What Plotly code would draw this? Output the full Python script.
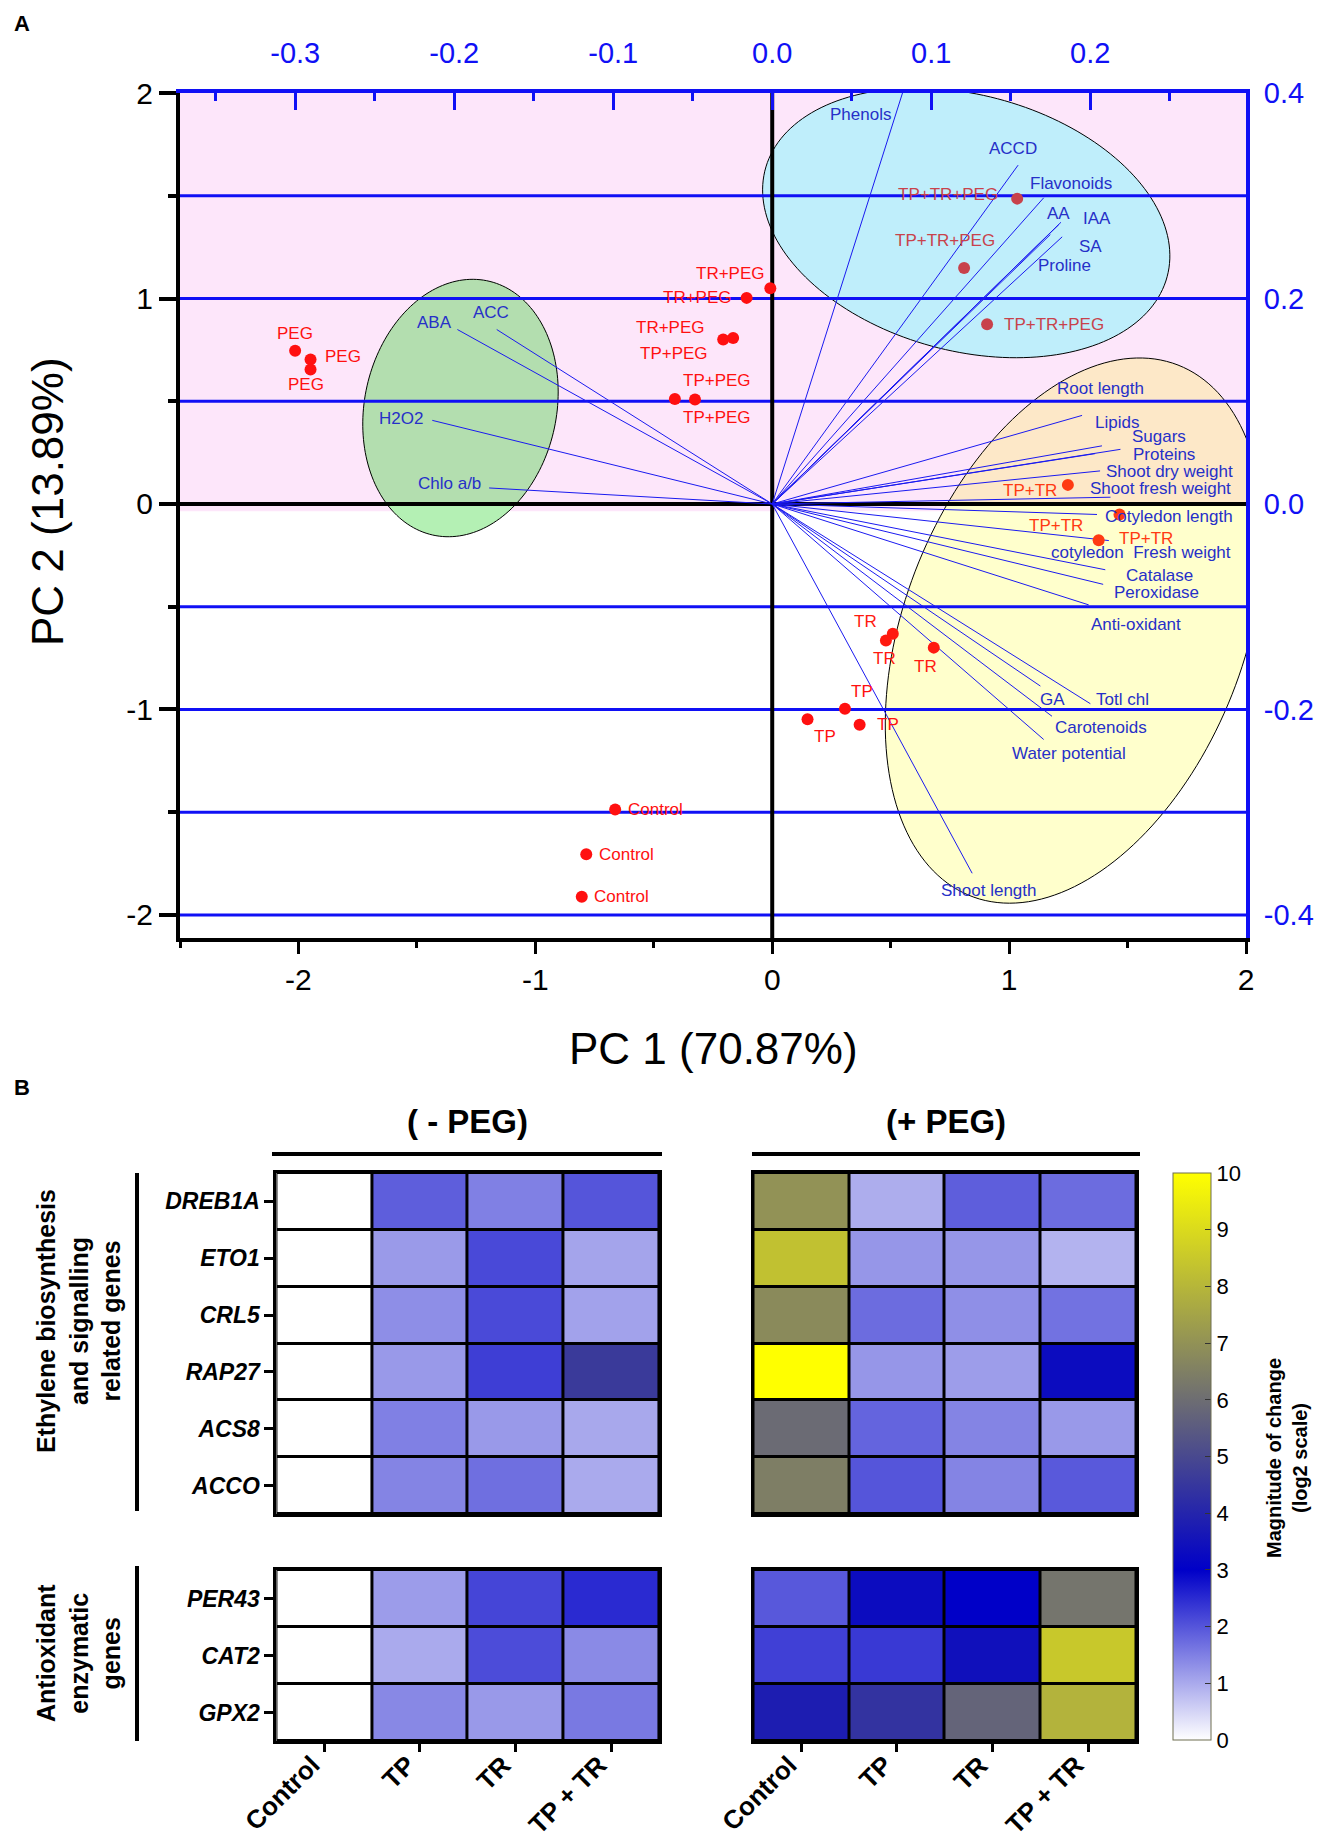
import numpy as np
import plotly.graph_objects as go

W, H = 1323, 1844

# ---------------- Panel A: PCA biplot data ----------------
sample_labels = ["PEG", "PEG", "PEG",
                 "TR+PEG", "TR+PEG", "TR+PEG",
                 "TP+PEG", "TP+PEG", "TP+PEG",
                 "TP+TR+PEG", "TP+TR+PEG", "TP+TR+PEG",
                 "TR", "TR", "TR",
                 "TP", "TP", "TP",
                 "TP+TR", "TP+TR", "TP+TR",
                 "Control", "Control", "Control"]
sample_pc1 = [-2.014, -1.949, -1.949,
              -0.008, -0.108, -0.165,
              -0.207, -0.411, -0.326,
              1.034, 0.810, 0.907,
              0.509, 0.480, 0.682,
              0.307, 0.149, 0.369,
              1.248, 1.466, 1.378,
              -0.663, -0.785, -0.804]
sample_pc2 = [0.746, 0.703, 0.654,
              1.050, 1.003, 0.808,
              0.800, 0.511, 0.508,
              1.486, 1.148, 0.875,
              -0.631, -0.664, -0.699,
              -0.996, -1.047, -1.074,
              0.093, -0.051, -0.176,
              -1.487, -1.705, -1.911]

variable_names = ["Phenols", "ACCD", "Flavonoids", "AA", "IAA", "SA", "Proline",
                  "Root length", "Lipids", "Sugars", "Proteins", "Shoot dry weight",
                  "Shoot fresh weight", "Cotyledon length", "cotyledon&nbsp; Fresh weight",
                  "Catalase", "Peroxidase", "Anti-oxidant", "GA", "Totl chl",
                  "Carotenoids", "Water potential", "Shoot length",
                  "ABA", "ACC", "H2O2", "Chlo a/b"]
variable_pc1 = [0.550, 1.038, 1.146, 1.219, 1.210, 1.224, 1.174,
                1.308, 1.392, 1.470, 1.363, 1.384,
                1.428, 1.371, 1.421,
                1.406, 1.397, 1.336, 1.132, 1.343,
                1.181, 1.146, 0.844,
                -1.329, -1.163, -1.435, -1.195]
variable_pc2 = [2.000, 1.649, 1.490, 1.371, 1.360, 1.300, 1.311,
                0.431, 0.283, 0.266, 0.245, 0.161,
                0.033, -0.051, -0.178,
                -0.320, -0.391, -0.491, -0.886, -0.972,
                -1.033, -1.146, -1.797,
                0.849, 0.849, 0.407, 0.078]

pc1_title = "PC 1 (70.87%)"
pc2_title = "PC 2 (13.89%)"
pc1_ticks = [-2, -1, 0, 1, 2]
pc2_ticks = [-2, -1, 0, 1, 2]
top_ticks = [-0.3, -0.2, -0.1, 0.0, 0.1, 0.2]
right_ticks = [0.4, 0.2, 0.0, -0.2, -0.4]
right_grid = [0.3, 0.2, 0.1, -0.1, -0.2, -0.3, -0.4]

# ---------------- Panel B: heatmap data ----------------
treatments = ["Control", "TP", "TR", "TP + TR"]
genes_ethylene = ["DREB1A", "ETO1", "CRL5", "RAP27", "ACS8", "ACCO"]
genes_antiox = ["PER43", "CAT2", "GPX2"]
ethylene_minus_peg = [[0, 1.90, 1.50, 2.00],
                      [0, 1.19, 2.14, 1.07],
                      [0, 1.33, 2.13, 1.09],
                      [0, 1.20, 2.27, 4.60],
                      [0, 1.50, 1.20, 1.02],
                      [0, 1.45, 1.70, 1.00]]
ethylene_plus_peg = [[7.00, 0.96, 1.90, 1.73],
                     [8.30, 1.24, 1.23, 0.90],
                     [6.80, 1.73, 1.32, 1.66],
                     [10.0, 1.24, 1.15, 3.33],
                     [5.95, 1.82, 1.45, 1.20],
                     [6.45, 2.00, 1.45, 1.95]]
antiox_minus_peg = [[0, 1.16, 2.19, 2.50],
                    [0, 1.00, 2.10, 1.38],
                    [0, 1.40, 1.20, 1.58]]
antiox_plus_peg = [[1.97, 3.33, 3.00, 6.20],
                   [2.25, 2.33, 3.44, 8.50],
                   [3.80, 4.40, 5.75, 7.90]]
colorbar_ticks = list(range(0, 11))

# ---------------- styles / layout geometry ----------------
FONT = "Liberation Sans, Arial, sans-serif"
NARROW = "Liberation Sans Narrow, Arial Narrow, Liberation Sans, Arial, sans-serif"
BLUE_TXT = "#2630C8"
AXBLUE = "#1010F5"

X_RANGE = [-2.5, 2.0]
Y_RANGE = [-2.112, 2.0]
PCA_L, PCA_R, PCA_T, PCA_B = 172, 1238, 85, 930
KX = (PCA_R - PCA_L) / (X_RANGE[1] - X_RANGE[0])
KY = (PCA_B - PCA_T) / (Y_RANGE[1] - Y_RANGE[0])
TOP_SCALE = 0.149     # top axis units per PC1 unit
RIGHT_SCALE = 0.2     # right axis units per PC2 unit

group_marker = {"PEG": "#FF1010", "TR+PEG": "#FF1010", "TP+PEG": "#FF1010",
                "TP+TR+PEG": "#C8424B", "TR": "#FF1A10", "TP": "#FF1010",
                "TP+TR": "#FF3A12", "Control": "#FF1010"}
group_text = {"PEG": "#FF1010", "TR+PEG": "#FF1010", "TP+PEG": "#FF1010",
              "TP+TR+PEG": "#C8424B", "TR": "#FF1A10", "TP": "#FF1010",
              "TP+TR": "#FF3A12", "Control": "#FF1010"}
# label offsets (pixels, dx right, dy down) for sample labels
sample_offsets = [(0, -17), (32, -3), (-5, 15),
                  (-40, -15), (-49, 0), (-63, -10),
                  (-49, 14), (42, -18), (22, 18),
                  (-69, -4), (-19, -28), (67, 0),
                  (-27, -12), (-1, 18), (-8, 19),
                  (17, -17), (17, 17), (28, 0),
                  (-38, 6), (-64, 11), (47, -2),
                  (40, 0), (40, 0), (40, 0)]
variable_offsets = [(-42, 22), (-5, -17), (27, -14), (-2, -9), (38, -6), (28, 10), (14, 31),
                    (18, -27), (15, -23), (39, -13), (69, 1), (69, 1),
                    (50, -9), (72, 2), (32, 12),
                    (54, 6), (53, 8), (47, 20), (12, 13), (32, -4),
                    (49, 11), (25, 14), (16, 17),
                    (-23, -7), (-6, -17), (-31, -2), (-40, -4)]

ellipses = [  # center (data), semi-axes (px), angle (deg), fill, upper fill
    dict(cx=1.276, cy=-0.616, a=285, b=170, ang=68.7, fill="#FFFFCC", upper="#FDE8C8"),
    dict(cx=-1.316, cy=0.467, a=96, b=130, ang=-12, fill="#B4F0B4", upper="#B3DEAF"),
    dict(cx=0.819, cy=1.368, a=208, b=128, ang=-15, fill="#BFEEFB", upper="#BFEEFB"),
]


def ellipse_path(e, clip_upper=False, n=180):
    t = np.linspace(0, 2 * np.pi, n)
    th = np.radians(e["ang"])
    X = e["a"] * np.cos(t) * np.cos(th) - e["b"] * np.sin(t) * np.sin(th)
    Y = e["a"] * np.cos(t) * np.sin(th) + e["b"] * np.sin(t) * np.cos(th)
    xs = e["cx"] + X / KX
    ys = e["cy"] + Y / KY
    if clip_upper:
        ys = np.maximum(ys, 0)
    return "M " + " L ".join(f"{x:.4f},{y:.4f}" for x, y in zip(xs, ys)) + " Z"


def fmt(v, nd=0):
    s = f"{v:.{nd}f}"
    return s.replace("\u2212", "-")


fig = go.Figure()

# loading vectors
vx, vy = [], []
for px_, py_ in zip(variable_pc1, variable_pc2):
    vx += [0, px_, None]
    vy += [0, py_, None]
fig.add_trace(go.Scatter(x=vx, y=vy, mode="lines", line=dict(color="#1A1AF0", width=1),
                         hoverinfo="skip", showlegend=False, xaxis="x", yaxis="y"))
# samples
fig.add_trace(go.Scatter(x=sample_pc1, y=sample_pc2, mode="markers",
                         marker=dict(size=12, color=[group_marker[g] for g in sample_labels]),
                         showlegend=False, xaxis="x", yaxis="y"))
# invisible traces to activate secondary axes
fig.add_trace(go.Scatter(x=[X_RANGE[0] * TOP_SCALE], y=[0], mode="markers", marker=dict(opacity=0),
                         showlegend=False, hoverinfo="skip", xaxis="x6", yaxis="y"))
fig.add_trace(go.Scatter(x=[0], y=[Y_RANGE[0] * RIGHT_SCALE], mode="markers", marker=dict(opacity=0),
                         showlegend=False, hoverinfo="skip", xaxis="x", yaxis="y6"))

# heatmaps
heat_specs = [(ethylene_minus_peg, genes_ethylene, "x2", "y2"),
              (ethylene_plus_peg, genes_ethylene, "x3", "y3"),
              (antiox_minus_peg, genes_antiox, "x4", "y4"),
              (antiox_plus_peg, genes_antiox, "x5", "y5")]
for z, genes, xa, ya in heat_specs:
    fig.add_trace(go.Heatmap(z=z, x=treatments, y=genes, coloraxis="coloraxis",
                             xgap=3, ygap=3, xaxis=xa, yaxis=ya))

shapes = []
# PCA backgrounds
shapes.append(dict(type="rect", xref="x", yref="y", x0=X_RANGE[0], x1=X_RANGE[1], y0=Y_RANGE[0],
                   y1=Y_RANGE[1], fillcolor="white", line=dict(width=0), layer="below"))
shapes.append(dict(type="rect", xref="x", yref="y", x0=X_RANGE[0], x1=X_RANGE[1], y0=-0.035,
                   y1=Y_RANGE[1], fillcolor="#FDE6FA", line=dict(width=0), layer="below"))
for e in ellipses:
    shapes.append(dict(type="path", xref="x", yref="y", path=ellipse_path(e), fillcolor=e["fill"],
                       line=dict(width=0), layer="below"))
    shapes.append(dict(type="path", xref="x", yref="y", path=ellipse_path(e, True), fillcolor=e["upper"],
                       line=dict(width=0), layer="below"))
    shapes.append(dict(type="path", xref="x", yref="y", path=ellipse_path(e), fillcolor="rgba(0,0,0,0)",
                       line=dict(width=1, color="black"), layer="below"))
for g in right_grid:
    shapes.append(dict(type="line", xref="x", yref="y", x0=X_RANGE[0], x1=X_RANGE[1], y0=g / RIGHT_SCALE,
                       y1=g / RIGHT_SCALE, line=dict(color=AXBLUE, width=3), layer="below"))
shapes.append(dict(type="line", xref="x", yref="y", x0=X_RANGE[0], x1=X_RANGE[1], y0=0, y1=0,
                   line=dict(color="black", width=4), layer="below"))
shapes.append(dict(type="line", xref="x", yref="y", x0=0, x1=0, y0=Y_RANGE[0], y1=Y_RANGE[1],
                   line=dict(color="black", width=4), layer="below"))


def pxs(x): return x / W
def pys(y): return 1 - y / H


for x0, x1 in [(264, 654), (744, 1132)]:
    shapes.append(dict(type="line", xref="paper", yref="paper", x0=pxs(x0), x1=pxs(x1),
                       y0=pys(1146), y1=pys(1146), line=dict(color="black", width=4)))
for y0, y1 in [(1165, 1503), (1558, 1733)]:
    shapes.append(dict(type="line", xref="paper", yref="paper", x0=pxs(129), x1=pxs(129),
                       y0=pys(y0), y1=pys(y1), line=dict(color="black", width=4)))

annotations = []
for lab, x, y, (dx, dy) in zip(sample_labels, sample_pc1, sample_pc2, sample_offsets):
    annotations.append(dict(x=x, y=y, xref="x", yref="y", text=lab, showarrow=False,
                            xanchor="center", yanchor="middle",
                            xshift=dx, yshift=-dy, font=dict(family=FONT, size=17, color=group_text[lab])))
for lab, x, y, (dx, dy) in zip(variable_names, variable_pc1, variable_pc2, variable_offsets):
    annotations.append(dict(x=x, y=y, xref="x", yref="y", text=lab, showarrow=False,
                            xanchor="center", yanchor="middle",
                            xshift=dx, yshift=-dy, font=dict(family=FONT, size=17, color=BLUE_TXT)))


def para(x, y, text, size, family=FONT, angle=0):
    return dict(x=pxs(x), y=pys(y), xref="paper", yref="paper", text=text, showarrow=False,
                xanchor="center", yanchor="middle", textangle=angle,
                font=dict(family=family, size=size, color="black"))


annotations += [
    para(705, 1040, pc1_title, 44),
    para(39, 494, pc2_title, 44, angle=-90),
    para(14, 16, "<b>A</b>", 22),
    para(14, 1079, "<b>B</b>", 22),
    para(459, 1113, "<b>( - PEG)</b>", 33, NARROW),
    para(938, 1113, "<b>(+ PEG)</b>", 33, NARROW),
    para(70, 1313, "<b>Ethylene biosynthesis<br>and signalling<br>related genes</b>", 25, NARROW, -90),
    para(70, 1645, "<b>Antioxidant<br>enzymatic<br>genes</b>", 25, NARROW, -90),
    para(1279, 1450, "<b>Magnitude of change<br>(log2 scale)</b>", 20, FONT, -90),
]
# rotated treatment labels under the lower heatmaps
for xa in ["x4", "x5"]:
    for t in treatments:
        annotations.append(dict(x=t, y=pys(1739), xref=xa, yref="paper", text=f"<b>{t}</b>",
                                showarrow=False, textangle=-45, xanchor="right", yanchor="top",
                                xshift=4, font=dict(family=FONT, size=26, color="black")))

pca_xdom = [PCA_L / W, PCA_R / W]
pca_ydom = [1 - PCA_B / H, 1 - PCA_T / H]
left_dom = [268.4 / W, 651 / W]
right_dom = [745.5 / W, 1128 / W]
upper_dom = [1 - 1506 / H, 1 - 1165 / H]
lower_dom = [1 - 1733 / H, 1 - 1562 / H]

tickfont_pca = dict(family=FONT, size=30, color="black")
tickfont_blue = dict(family=FONT, size=29, color=AXBLUE)


def heat_x(dom, anchor, ticks):
    d = dict(domain=dom, anchor=anchor, range=[-0.5, 3.5], showgrid=False, zeroline=False,
             showline=True, mirror=True, linecolor="black", linewidth=3, automargin=False,
             fixedrange=True, showticklabels=False)
    if ticks:
        d.update(ticks="outside", ticklen=8, tickwidth=3, tickcolor="black")
    else:
        d.update(ticks="")
    return d


def heat_y(dom, anchor, labels, n):
    d = dict(domain=dom, anchor=anchor, range=[n - 0.5, -0.5], showgrid=False, zeroline=False,
             showline=True, mirror=True, linecolor="black", linewidth=3, automargin=False,
             fixedrange=True)
    if labels:
        d.update(ticks="outside", ticklen=9, tickwidth=3, tickcolor="black",
                 tickfont=dict(family=FONT, size=23, color="black", weight="bold", style="italic"))
    else:
        d.update(showticklabels=False, ticks="")
    return d


fig.update_layout(
    width=W, height=H, margin=dict(l=0, r=0, t=0, b=0),
    paper_bgcolor="white", plot_bgcolor="black", showlegend=False,
    font=dict(family=FONT),
    xaxis=dict(domain=pca_xdom, anchor="y", range=X_RANGE, tickvals=pc1_ticks,
               ticktext=[fmt(v) for v in pc1_ticks], ticks="outside",
               ticklen=12, tickwidth=3, tickcolor="black", showline=True, linecolor="black", linewidth=4,
               showgrid=False, zeroline=False, tickfont=tickfont_pca, automargin=False,
               minor=dict(tickvals=[-2.5, -1.5, -0.5, 0.5, 1.5], ticks="outside", ticklen=6,
                          tickwidth=3, tickcolor="black", showgrid=False)),
    yaxis=dict(domain=pca_ydom, anchor="x", range=Y_RANGE, tickvals=pc2_ticks,
               ticktext=[fmt(v) for v in pc2_ticks], ticks="outside",
               ticklen=17, tickwidth=4, tickcolor="black", showline=True, linecolor="black", linewidth=4,
               showgrid=False, zeroline=False, tickfont=tickfont_pca, automargin=False,
               minor=dict(tickvals=[-1.5, -0.5, 0.5, 1.5], ticks="outside", ticklen=8,
                          tickwidth=4, tickcolor="black", showgrid=False)),
    xaxis6=dict(overlaying="x", anchor="y", side="top",
                range=[X_RANGE[0] * TOP_SCALE, X_RANGE[1] * TOP_SCALE],
                tickvals=top_ticks, ticktext=[fmt(v, 1) for v in top_ticks], ticks="inside",
                ticklen=17, tickwidth=3, tickcolor=AXBLUE, showline=True, linecolor=AXBLUE, linewidth=4,
                showgrid=False, zeroline=False, tickfont=tickfont_blue, automargin=False,
                ticklabelstandoff=14,
                minor=dict(dtick=0.05, tick0=0, ticks="inside", ticklen=8, tickwidth=3,
                           tickcolor=AXBLUE, showgrid=False)),
    yaxis6=dict(overlaying="y", anchor="x", side="right",
                range=[Y_RANGE[0] * RIGHT_SCALE, Y_RANGE[1] * RIGHT_SCALE],
                tickvals=right_ticks, ticktext=[fmt(v, 1) for v in right_ticks], ticks="",
                showline=True, linecolor=AXBLUE, linewidth=4, showgrid=False, zeroline=False,
                tickfont=tickfont_blue, automargin=False, ticklabelstandoff=8),
    xaxis2=heat_x(left_dom, "y2", False),
    yaxis2=heat_y(upper_dom, "x2", True, len(genes_ethylene)),
    xaxis3=heat_x(right_dom, "y3", False),
    yaxis3=heat_y(upper_dom, "x3", False, len(genes_ethylene)),
    xaxis4=heat_x(left_dom, "y4", True),
    yaxis4=heat_y(lower_dom, "x4", True, len(genes_antiox)),
    xaxis5=heat_x(right_dom, "y5", True),
    yaxis5=heat_y(lower_dom, "x5", False, len(genes_antiox)),
    coloraxis=dict(cmin=0, cmax=10,
                   colorscale=[[0, "rgb(255,255,255)"], [0.3, "rgb(0,0,200)"], [1, "rgb(255,255,0)"]],
                   colorbar=dict(x=1165 / W, xanchor="left", xref="paper", y=1 - 1448.5 / H,
                                 yanchor="middle", yref="paper", len=(1732 - 1165) / H, lenmode="fraction",
                                 thickness=38, thicknessmode="pixels", tickvals=colorbar_ticks,
                                 ticks="inside", ticklen=6, tickwidth=1, tickcolor="#333333",
                                 outlinewidth=1, outlinecolor="#6E6E50", xpad=0, ypad=0,
                                 tickprefix="\u2002",
                                 tickfont=dict(family=FONT, size=22, color="black"))),
    shapes=shapes,
    annotations=annotations,
)

fig.write_html("out.html")
